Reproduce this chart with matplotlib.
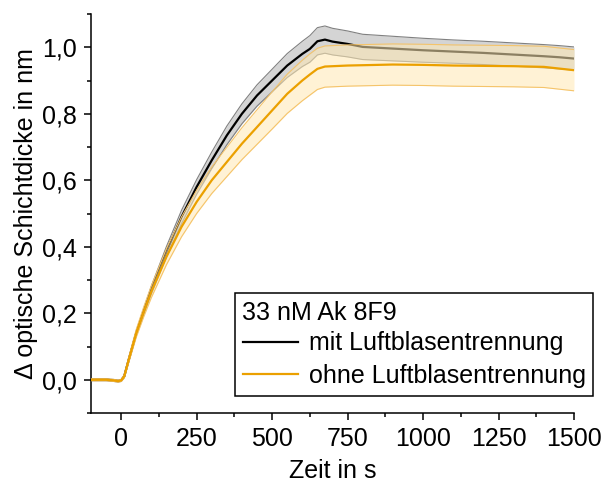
import matplotlib
matplotlib.use("Agg")
import matplotlib.pyplot as plt
import numpy as np
from matplotlib.ticker import FuncFormatter, MultipleLocator

plt.rcParams['font.family'] = ['Liberation Sans', 'DejaVu Sans']

# time in s
t = [-100, -75, -50, -25, -10, 0, 10, 25, 50, 75, 100, 150, 200, 250, 300, 350, 400,
     450, 500, 550, 600, 625, 650, 675, 700, 750, 800, 900, 1000, 1100, 1200, 1300,
     1400, 1450, 1500]

# mit Luftblasentrennung (mean)
mit_mean = [0.0, 0.0, 0.0, -0.002, -0.004, -0.002, 0.01, 0.06, 0.14, 0.205, 0.27, 0.385,
            0.49, 0.58, 0.66, 0.735, 0.80, 0.855, 0.90, 0.945, 0.98, 0.995, 1.018, 1.023,
            1.017, 1.010, 1.001, 0.996, 0.991, 0.987, 0.983, 0.978, 0.973, 0.970, 0.966]
mit_err = [0.003, 0.003, 0.003, 0.003, 0.003, 0.003, 0.004, 0.006, 0.008, 0.01, 0.012, 0.016,
           0.02, 0.022, 0.025, 0.028, 0.03, 0.032, 0.034, 0.036, 0.038, 0.04, 0.041, 0.041,
           0.04, 0.039, 0.038, 0.037, 0.036, 0.035, 0.035, 0.035, 0.035, 0.035, 0.035]

# ohne Luftblasentrennung (mean)
ohne_mean = [0.0, 0.0, 0.0, -0.002, -0.004, -0.002, 0.01, 0.06, 0.14, 0.205, 0.265, 0.37,
             0.46, 0.535, 0.60, 0.655, 0.71, 0.76, 0.81, 0.86, 0.90, 0.918, 0.935, 0.942,
             0.943, 0.945, 0.946, 0.948, 0.947, 0.945, 0.944, 0.943, 0.941, 0.936, 0.931]
ohne_err = [0.003, 0.003, 0.003, 0.003, 0.003, 0.003, 0.005, 0.008, 0.012, 0.015, 0.018, 0.024,
            0.03, 0.035, 0.04, 0.044, 0.048, 0.052, 0.056, 0.059, 0.061, 0.062, 0.062, 0.062,
            0.062, 0.062, 0.062, 0.062, 0.062, 0.062, 0.062, 0.062, 0.062, 0.062, 0.062]

legend_title = "33 nM Ak 8F9"
label_mit = "mit Luftblasentrennung"
label_ohne = "ohne Luftblasentrennung"

t = np.array(t)
mm, me = np.array(mit_mean), np.array(mit_err)
om, oe = np.array(ohne_mean), np.array(ohne_err)

FS = 18

fig = plt.figure(figsize=(6.16, 4.91), dpi=100)
ax = fig.add_axes([91/616, 1-413/491, (574-91)/616, (413-14)/491])

orange = '#EBA000'
# grey band (mit)
ax.fill_between(t, mm - me, mm + me, color='#d4d4d4', lw=0, zorder=1)
ax.plot(t, mm + me, color='#808080', lw=0.8, zorder=1.5)
ax.plot(t, mm - me, color='#808080', lw=0.8, zorder=1.5)
l1, = ax.plot(t, mm, color='black', lw=1.6, zorder=2, label=label_mit)
# orange band (ohne)
ax.fill_between(t, om - oe, om + oe, color=(1.0, 233/255, 180/255), alpha=0.55, lw=0, zorder=3)
ax.plot(t, om + oe, color='#F5C46A', lw=0.8, zorder=3.5)
ax.plot(t, om - oe, color='#F5C46A', lw=0.8, zorder=3.5)
l2, = ax.plot(t, om, color=orange, lw=1.6, zorder=4, label=label_ohne)

ax.set_xlim(-100, 1500)
ax.set_ylim(-0.1, 1.1)
ax.xaxis.set_major_locator(MultipleLocator(250))
ax.xaxis.set_minor_locator(MultipleLocator(125))
ax.yaxis.set_major_locator(MultipleLocator(0.2))
ax.yaxis.set_minor_locator(MultipleLocator(0.1))
ax.yaxis.set_major_formatter(FuncFormatter(lambda v, p: f"{v:.1f}".replace('.', ',').replace('-0,0', '0,0')))

for s in ['top', 'right']:
    ax.spines[s].set_visible(False)
for s in ['left', 'bottom']:
    ax.spines[s].set_linewidth(1.1)
ax.tick_params(which='major', direction='out', length=5, width=1.1, labelsize=FS, pad=5)
ax.tick_params(which='minor', direction='out', length=3, width=1.1)

ax.set_xlabel("Zeit in s", fontsize=FS, labelpad=6)
ax.set_ylabel("Δ optische Schichtdicke in nm", fontsize=FS, labelpad=3)

leg = ax.legend(handles=[l1, l2], title=legend_title, loc='upper left',
                bbox_to_anchor=(235/616, 1-293/491), bbox_transform=fig.transFigure,
                fontsize=FS, title_fontsize=FS, frameon=True, fancybox=False,
                borderpad=0.3, handlelength=2.2, handletextpad=0.45, labelspacing=0.35,
                borderaxespad=0)
leg._legend_box.align = 'left'
leg._legend_box.sep = 5
leg.get_frame().set_edgecolor('black')
leg.get_frame().set_linewidth(1.1)
leg.get_frame().set_alpha(1)
for line in leg.get_lines():
    line.set_linewidth(1.6)

fig.savefig("out.png", dpi=100)
